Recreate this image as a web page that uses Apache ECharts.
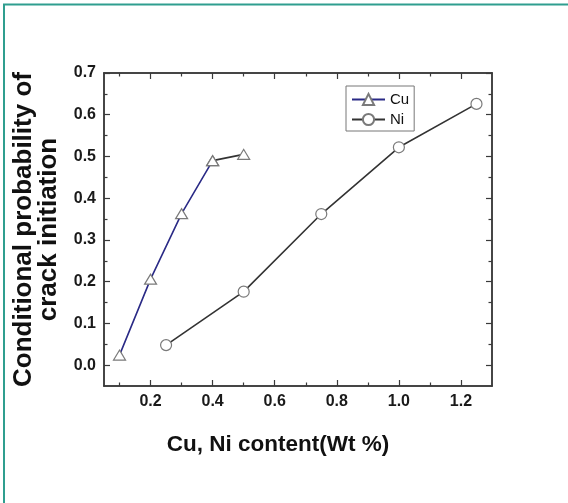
<!DOCTYPE html>
<html>
<head>
<meta charset="utf-8">
<script src="https://cdn.jsdelivr.net/npm/echarts@6/dist/echarts.min.js"></script>
<style>
  html, body { margin: 0; padding: 0; background: #fff; }
  #chart { width: 568px; height: 503px; }
</style>
</head>
<body>
<div id="chart"></div>
<script>
// Conditional probability of crack initiation vs. Cu / Ni content
const cuContent = [0.1, 0.2, 0.3, 0.4, 0.5];
const cuProbability = [0.024, 0.206, 0.363, 0.490, 0.505];
const niContent = [0.25, 0.5, 0.75, 1.0, 1.25];
const niProbability = [0.048, 0.176, 0.362, 0.522, 0.626];

const xMajorTicks = [0.2, 0.4, 0.6, 0.8, 1.0, 1.2];
const xMinorTicks = [0.1, 0.3, 0.5, 0.7, 0.9, 1.1];
const yMajorTicks = [0.0, 0.1, 0.2, 0.3, 0.4, 0.5, 0.6, 0.7];
const yMinorTicks = [0.05, 0.15, 0.25, 0.35, 0.45, 0.55, 0.65];

const FONT = 'Liberation Sans, Arial, sans-serif';
const AXIS_COLOR = '#3a3a3a';
const X_RANGE = [0.05, 1.3];
const Y_RANGE = [-0.05, 0.7];

const pairs = (xs, ys) => xs.map((x, i) => [x, ys[i]]);
const cuPoints = pairs(cuContent, cuProbability);
const niPoints = pairs(niContent, niProbability);

function frameAxis(dim, position, ticks, tickLen, opts) {
  const range = dim === 'x' ? X_RANGE : Y_RANGE;
  return Object.assign({
    type: 'value',
    gridIndex: 0,
    position: position,
    min: range[0],
    max: range[1],
    axisLine: { show: true, onZero: false, lineStyle: { color: AXIS_COLOR, width: 1.5 } },
    axisTick: { show: true, inside: true, length: tickLen, customValues: ticks,
                lineStyle: { color: AXIS_COLOR, width: 1.2 } },
    axisLabel: { show: false },
    splitLine: { show: false },
    nameMoveOverlap: false
  }, opts || {});
}

const tickLabel = {
  show: true,
  fontFamily: FONT,
  fontWeight: 'bold',
  fontSize: 16,
  color: '#1a1a1a',
  formatter: v => v.toFixed(1)
};

const option = {
  backgroundColor: '#fff',
  animation: false,
  grid: { left: 104, top: 73, right: 76, bottom: 117, outerBoundsMode: 'none' },
  xAxis: [
    frameAxis('x', 'bottom', xMajorTicks, 6, {
      axisLabel: Object.assign({ customValues: xMajorTicks, margin: 8 }, tickLabel),
      name: 'Cu, Ni content(Wt %)',
      nameLocation: 'middle',
      nameGap: 47,
      nameTextStyle: { fontFamily: FONT, fontWeight: 'bold', fontSize: 22.5, color: '#111',
                       padding: [0, 40, 0, 0] }
    }),
    frameAxis('x', 'bottom', xMinorTicks, 3.5),
    frameAxis('x', 'top', xMajorTicks, 6),
    frameAxis('x', 'top', xMinorTicks, 3.5)
  ],
  yAxis: [
    frameAxis('y', 'left', yMajorTicks, 6, {
      axisLabel: Object.assign({ customValues: yMajorTicks, margin: 8 }, tickLabel),
      name: 'Conditional probability of\ncrack initiation',
      nameLocation: 'middle',
      nameRotate: 90,
      nameGap: 43,
      nameTextStyle: { fontFamily: FONT, fontWeight: 'bold', fontSize: 26, lineHeight: 25, color: '#111' }
    }),
    frameAxis('y', 'left', yMinorTicks, 3.5),
    frameAxis('y', 'right', yMajorTicks, 6),
    frameAxis('y', 'right', yMinorTicks, 3.5)
  ],
  legend: {
    data: ['Cu', 'Ni'],
    orient: 'vertical',
    left: 346,
    top: 86,
    padding: [6, 5, 4, 5],
    itemGap: 5,
    itemWidth: 33,
    itemHeight: 14,
    borderColor: '#777',
    borderWidth: 1,
    backgroundColor: '#fff',
    textStyle: { fontFamily: FONT, fontSize: 15, color: '#111' }
  },
  series: [
    {
      name: 'Cu',
      type: 'line',
      data: cuPoints.slice(0, 4),
      symbol: 'triangle',
      symbolSize: [12, 10],
      lineStyle: { color: '#2a2a86', width: 1.6 },
      itemStyle: { color: '#fff', borderColor: '#7a7a7a', borderWidth: 1.2 },
      z: 3
    },
    {
      name: 'Cu-tail',
      type: 'line',
      data: cuPoints.slice(3),
      symbol: 'triangle',
      symbolSize: [12, 10],
      lineStyle: { color: '#333', width: 1.6 },
      itemStyle: { color: '#fff', borderColor: '#7a7a7a', borderWidth: 1.2 },
      z: 3
    },
    {
      name: 'Ni',
      type: 'line',
      data: niPoints,
      symbol: 'circle',
      symbolSize: 11,
      lineStyle: { color: '#333', width: 1.6 },
      itemStyle: { color: '#fff', borderColor: '#7a7a7a', borderWidth: 1.2 },
      z: 3
    }
  ],
  graphic: [{
    type: 'polyline',
    silent: true,
    shape: { points: [[4, 503], [4, 4.5], [568, 4.5]] },
    style: { stroke: '#2f9e8f', lineWidth: 2, fill: null }
  }]
};

const chart = echarts.init(document.getElementById('chart'), null, { renderer: 'canvas' });
chart.setOption(option);
</script>
</body>
</html>
